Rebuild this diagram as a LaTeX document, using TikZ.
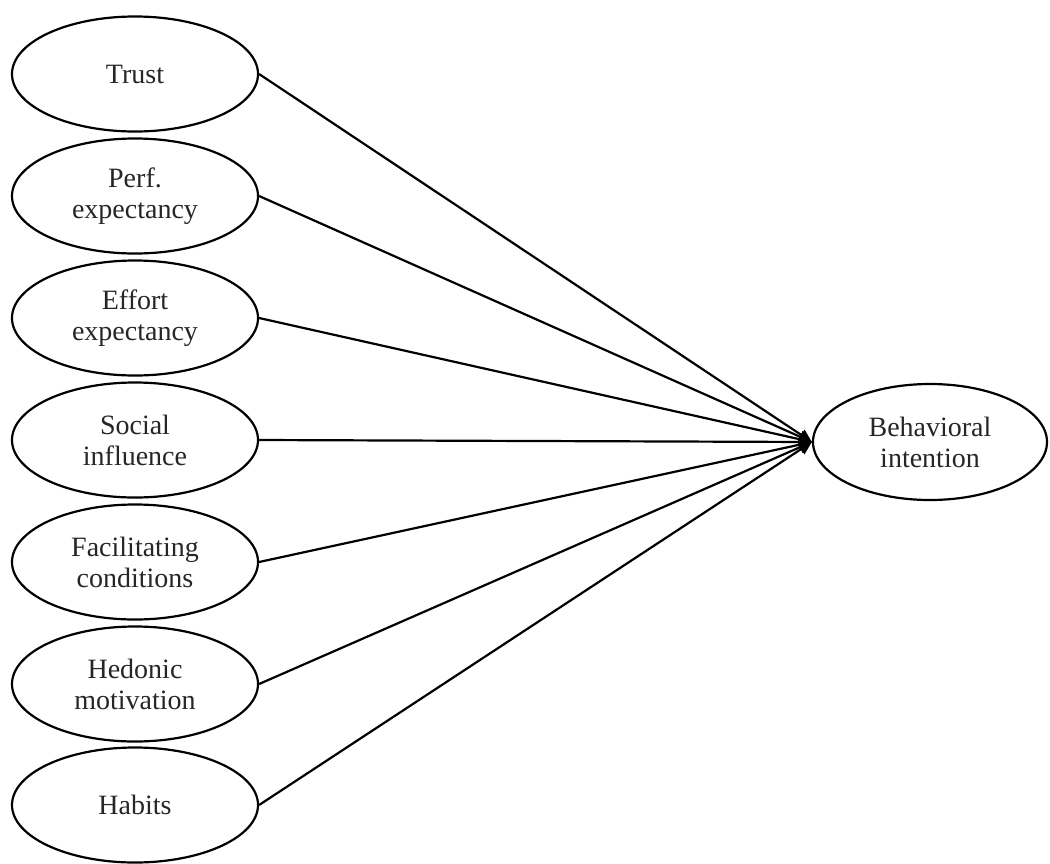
\documentclass[tikz,border=0pt]{standalone}
\usepackage{fontspec}
\setmainfont{Liberation Serif}
\usetikzlibrary{shapes.geometric,arrows.meta}
\begin{document}
\begin{tikzpicture}[x=1pt,y=-1pt,
  construct/.style={draw=black,line width=2.2pt,ellipse,minimum width=246pt,minimum height=115pt,inner sep=0pt,align=center,font=\fontsize{28}{31}\selectfont,text=black!85},
  path/.style={draw=black,line width=2.2pt,-{Triangle[length=13pt,width=12pt]}}]
\useasboundingbox (0,0) rectangle (1050,863);
\node[construct] (trust) at (135,74) {Trust};
\node[construct] (perf) at (135,196) {Perf.\\expectancy};
\node[construct] (effort) at (135,318) {Effort\\expectancy};
\node[construct] (social) at (135,440) {Social\\influence};
\node[construct] (facil) at (135,562) {Facilitating\\conditions};
\node[construct] (hedonic) at (135,684) {Hedonic\\motivation};
\node[construct] (habits) at (135,805) {Habits};
\node[construct,minimum width=234pt,minimum height=116pt] (bi) at (930,442) {Behavioral\\intention};
\foreach \n in {trust,perf,effort,social,facil,hedonic,habits}
  \draw[path] (\n.east) -- (bi.west);
\end{tikzpicture}
\end{document}
